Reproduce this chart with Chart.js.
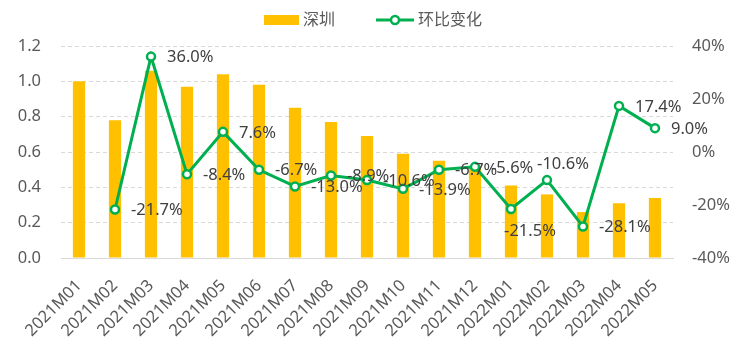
<!DOCTYPE html>
<html><head><meta charset="utf-8">
<script src="https://cdn.jsdelivr.net/npm/chart.js@4/dist/chart.umd.min.js"></script>
<style>html,body{margin:0;padding:0;background:#fff}#wrap{width:750px;height:360px}</style>
</head><body><div id="wrap"><canvas id="c" width="750" height="360"></canvas></div>
<script>
const categories = ['2021M01','2021M02','2021M03','2021M04','2021M05','2021M06','2021M07','2021M08','2021M09','2021M10','2021M11','2021M12','2022M01','2022M02','2022M03','2022M04','2022M05'];
const shenzhen = [1.00,0.78,1.06,0.97,1.04,0.98,0.85,0.77,0.69,0.59,0.55,0.52,0.41,0.36,0.26,0.31,0.34];
const momChange = [null,-21.7,36.0,-8.4,7.6,-6.7,-13.0,-8.9,-10.6,-13.9,-6.7,-5.6,-21.5,-10.6,-28.1,17.4,9.0];
const labelPlacement = ['right','right','right','right','right','right','right','right','right','right','right','right','below','above','right','right','right'];
const seriesNames = ['深圳','环比变化'];

const FONT = '"Noto Sans", "Noto Sans CJK SC", sans-serif';
const BAR = '#FFC000', LINE = '#00B050', TXT = '#595959', LBL = '#404040';

const labelPlugin = {
  id: 'pctLabels',
  afterDatasetsDraw(chart) {
    const ctx = chart.ctx;
    const meta = chart.getDatasetMeta(1);
    ctx.save();
    ctx.font = '16.5px ' + FONT;
    ctx.fillStyle = LBL;
    ctx.textBaseline = 'middle';
    meta.data.forEach((pt, i) => {
      const v = momChange[i];
      if (v === null || v === undefined) return;
      const t = v.toFixed(1) + '%';
      const p = labelPlacement[i];
      if (p === 'right') { ctx.textAlign = 'left'; ctx.fillText(t, pt.x + 16, pt.y + 1); }
      else if (p === 'below') { ctx.textAlign = 'center'; ctx.fillText(t, pt.x + 19, pt.y + 22); }
      else { ctx.textAlign = 'center'; ctx.fillText(t, pt.x + 16, pt.y - 16); }
    });
    ctx.restore();
  }
};

const legendPlugin = {
  id: 'customLegend',
  afterDraw(chart) {
    const ctx = chart.ctx;
    ctx.save();
    ctx.font = '16px ' + FONT;
    ctx.textBaseline = 'middle';
    ctx.textAlign = 'left';
    const w1 = ctx.measureText(seriesNames[0]).width;
    const w2 = ctx.measureText(seriesNames[1]).width;
    const total = 35 + 4 + w1 + 41 + 38 + 4 + w2;
    let x = chart.width / 2 - total / 2 - 2;
    const y = 20;
    ctx.fillStyle = BAR;
    ctx.fillRect(x, y - 5, 35, 10);
    x += 39;
    ctx.fillStyle = TXT;
    ctx.fillText(seriesNames[0], x, y);
    x += w1 + 41;
    ctx.strokeStyle = LINE; ctx.lineWidth = 3;
    ctx.beginPath(); ctx.moveTo(x, y); ctx.lineTo(x + 38, y); ctx.stroke();
    ctx.beginPath(); ctx.arc(x + 19, y, 4, 0, Math.PI * 2);
    ctx.fillStyle = '#fff'; ctx.fill(); ctx.lineWidth = 2.5; ctx.stroke();
    x += 42;
    ctx.fillStyle = TXT;
    ctx.fillText(seriesNames[1], x, y);
    ctx.restore();
  }
};

new Chart(document.getElementById('c'), {
  type: 'bar',
  data: {
    labels: categories,
    datasets: [
      { type: 'bar', label: seriesNames[0], data: shenzhen, backgroundColor: BAR, yAxisID: 'y', order: 1,
        barPercentage: 0.34, categoryPercentage: 1.0 },
      { type: 'line', label: seriesNames[1], data: momChange, yAxisID: 'y1', order: 0,
        borderColor: LINE, borderWidth: 3, pointRadius: 4, pointBorderWidth: 2.5,
        pointBackgroundColor: '#fff', pointBorderColor: LINE, tension: 0, spanGaps: false }
    ]
  },
  options: {
    responsive: false,
    animation: false,
    layout: { padding: { top: 46, right: 0, left: 0, bottom: 0 } },
    plugins: { legend: { display: false }, tooltip: { enabled: false } },
    scales: {
      x: {
        grid: { display: false },
        border: { display: true, color: '#D9D9D9', width: 1 },
        ticks: { color: TXT, font: { size: 16.5, family: FONT }, maxRotation: 45, minRotation: 45, autoSkip: false, padding: 10 },
        afterFit(s) { s.height = 102; }
      },
      y: {
        position: 'left', min: 0, max: 1.2,
        grid: { color: '#D9D9D9', lineWidth: 1, tickLength: 0, drawTicks: false },
        border: { display: false, dash: [4, 3] },
        ticks: { stepSize: 0.2, color: TXT, font: { size: 16.5, family: FONT }, padding: 20,
          callback: v => Number(v).toFixed(1) },
        afterFit(s) { s.width = 61; }
      },
      y1: {
        position: 'right', min: -40, max: 40,
        grid: { display: false, drawOnChartArea: false },
        border: { display: false },
        ticks: { stepSize: 20, color: TXT, font: { size: 16.5, family: FONT }, padding: 11,
          callback: v => v + '%' },
        afterFit(s) { s.width = 77; }
      }
    }
  },
  plugins: [labelPlugin, legendPlugin]
});
</script></body></html>
